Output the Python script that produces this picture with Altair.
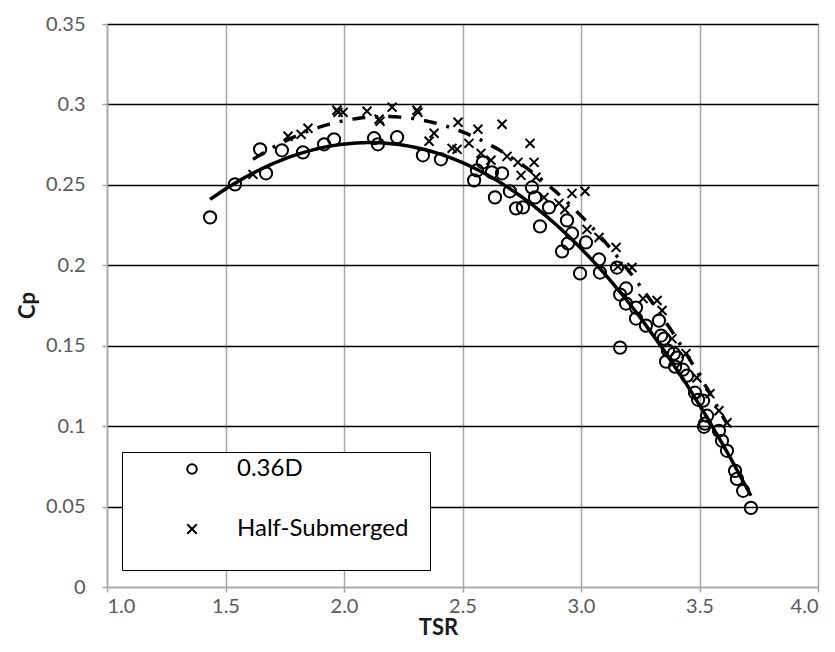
import altair as alt
import pandas as pd

# ---- data ----
series_names = ["0.36D", "Half-Submerged"]

tsr_036 = [1.435, 1.540, 1.646, 1.671, 1.738, 1.827, 1.916, 1.958, 2.127, 2.143,
           2.224, 2.333, 2.409, 2.549, 2.561, 2.586, 2.624, 2.667, 2.637, 2.700,
           2.726, 2.755, 2.793, 2.806, 2.827, 2.865, 2.941, 2.962, 2.945, 2.920,
           3.021, 2.996, 3.076, 3.080, 3.152, 3.190, 3.165, 3.190, 3.232, 3.232,
           3.274, 3.165, 3.329, 3.338, 3.350, 3.367, 3.392, 3.405, 3.359, 3.397,
           3.430, 3.447, 3.481, 3.494, 3.515, 3.532, 3.523, 3.519, 3.582, 3.595,
           3.616, 3.650, 3.658, 3.684, 3.717]
cp_036 = [0.2298, 0.2503, 0.2721, 0.2572, 0.2715, 0.2702, 0.2752, 0.2783, 0.2790, 0.2752,
          0.2796, 0.2684, 0.2659, 0.2528, 0.2590, 0.2640, 0.2578, 0.2572, 0.2422, 0.2460,
          0.2354, 0.2360, 0.2484, 0.2422, 0.2242, 0.2360, 0.2279, 0.2198, 0.2136, 0.2086,
          0.2142, 0.1949, 0.2036, 0.1955, 0.1986, 0.1856, 0.1818, 0.1762, 0.1737, 0.1669,
          0.1625, 0.1488, 0.1656, 0.1563, 0.1544, 0.1469, 0.1451, 0.1426, 0.1401, 0.1370,
          0.1351, 0.1314, 0.1208, 0.1164, 0.1158, 0.1065, 0.1015, 0.0996, 0.0971, 0.0909,
          0.0847, 0.0722, 0.0672, 0.0598, 0.0492]

tsr_half = [1.616, 1.764, 1.819, 1.848, 1.970, 1.975, 1.996, 2.097, 2.148, 2.152,
            2.203, 2.308, 2.312, 2.359, 2.380, 2.456, 2.477, 2.481, 2.527, 2.565,
            2.578, 2.620, 2.667, 2.688, 2.734, 2.747, 2.785, 2.802, 2.810, 2.844,
            2.907, 2.932, 2.962, 3.017, 3.025, 3.076, 3.148, 3.156, 3.215, 3.262,
            3.321, 3.342, 3.384, 3.443, 3.489, 3.544, 3.582, 3.616]
cp_half = [0.2565, 0.2802, 0.2814, 0.2852, 0.2964, 0.2951, 0.2951, 0.2958, 0.2908, 0.2895,
           0.2983, 0.2964, 0.2951, 0.2771, 0.2821, 0.2727, 0.2721, 0.2889, 0.2758, 0.2846,
           0.2696, 0.2653, 0.2877, 0.2677, 0.2640, 0.2559, 0.2758, 0.2640, 0.2547, 0.2422,
           0.2385, 0.2347, 0.2447, 0.2460, 0.2223, 0.2173, 0.2111, 0.1993, 0.1986, 0.1793,
           0.1781, 0.1719, 0.1544, 0.1451, 0.1301, 0.1202, 0.1096, 0.1021]

x_ticks = [1.0, 1.5, 2.0, 2.5, 3.0, 3.5, 4.0]
y_ticks = [0, 0.05, 0.1, 0.15, 0.2, 0.25, 0.3, 0.35]

df = pd.concat([
    pd.DataFrame({"TSR": tsr_036, "Cp": cp_036, "series": series_names[0]}),
    pd.DataFrame({"TSR": tsr_half, "Cp": cp_half, "series": series_names[1]}),
], ignore_index=True)

X_SHAPE = "M-1,-1L1,1M1,-1L-1,1"
FONT = "Lato"
GRAY = "#a6a6a6"

xscale = alt.Scale(domain=[1.0, 4.0], nice=False, zero=False)
yscale = alt.Scale(domain=[0, 0.35], nice=False)

xaxis = alt.Axis(
    values=x_ticks, format=".1f", title="TSR",
    grid=True, gridColor=GRAY, gridWidth=1.5,
    domainColor=GRAY, domainWidth=1.5, tickColor=GRAY, tickWidth=1.5, tickSize=5,
    labelFont=FONT, labelFontSize=20, labelColor="#595959", labelPadding=4,
    titleFont=FONT, titleFontSize=22, titleFontWeight="bold", titleColor="#1a1a1a",
    titleX=331, titleY=40, titleBaseline="middle", titleAnchor="start", titleAlign="center",
)
yaxis = alt.Axis(
    values=y_ticks, labelExpr="format(datum.value, '.2~f')", title="Cp",
    grid=True,
    gridColor={"condition": {"test": "datum.value === 0", "value": GRAY}, "value": "black"},
    gridWidth=1.5,
    domainColor=GRAY, domainWidth=1.5, tickColor=GRAY, tickWidth=1.5, tickSize=5,
    labelFont=FONT, labelFontSize=20, labelColor="#595959", labelPadding=17,
    titleFont=FONT, titleFontSize=22, titleFontWeight="bold", titleColor="#1a1a1a",
    titleX=-80, titleY=281, titleBaseline="middle", titleAnchor="start", titleAlign="center",
)

points = alt.Chart(df).transform_calculate(
    msize=f"datum.series === '{series_names[0]}' ? 150 : 80"
).mark_point(filled=False, strokeWidth=2, color="black", opacity=1).encode(
    x=alt.X("TSR:Q", scale=xscale, axis=xaxis),
    y=alt.Y("Cp:Q", scale=yscale, axis=yaxis),
    shape=alt.Shape(
        "series:N",
        scale=alt.Scale(domain=series_names, range=["circle", X_SHAPE]),
        legend=alt.Legend(
            # blank multi-line title on the right only pads the box (Excel-like legend frame)
            title=[" ", " ", " ", " "], titleOrient="right", titleFontSize=20,
            titleLineHeight=30.5, titlePadding=17, titleBaseline="top",
            orient="none", legendX=15, legendY=428, direction="vertical",
            strokeColor="black", fillColor="white", padding=5,
            rowPadding=36, symbolOffset=53, labelOffset=33, labelLimit=400,
            labelFont=FONT, labelFontSize=24, labelColor="black",
            symbolStrokeColor="black", symbolFillColor="white", symbolStrokeWidth=2,
            symbolSize=90,
        ),
    ),
    size=alt.Size("msize:Q", scale=None),
)

trend_036 = alt.Chart(df).transform_filter(
    alt.datum.series == series_names[0]
).transform_regression("TSR", "Cp", method="poly", order=3).mark_line(
    color="black", strokeWidth=3.5
).encode(x=alt.X("TSR:Q", scale=xscale), y=alt.Y("Cp:Q", scale=yscale))

trend_half = alt.Chart(df).transform_filter(
    alt.datum.series == series_names[1]
).transform_regression("TSR", "Cp", method="poly", order=3).mark_line(
    color="black", strokeWidth=3.5, strokeDash=[13, 10, 3, 10]
).encode(x=alt.X("TSR:Q", scale=xscale), y=alt.Y("Cp:Q", scale=yscale))

chart = alt.layer(points, trend_036, trend_half).properties(
    width=711, height=563,
    autosize=alt.AutoSizeParams(type="none"),
    padding={"left": 107, "top": 24, "right": 17, "bottom": 65},
).configure_view(stroke=None).configure_legend(strokeWidth=2).configure(background="white")

chart.save("out.html", embed_options={"renderer": "svg", "actions": False})
